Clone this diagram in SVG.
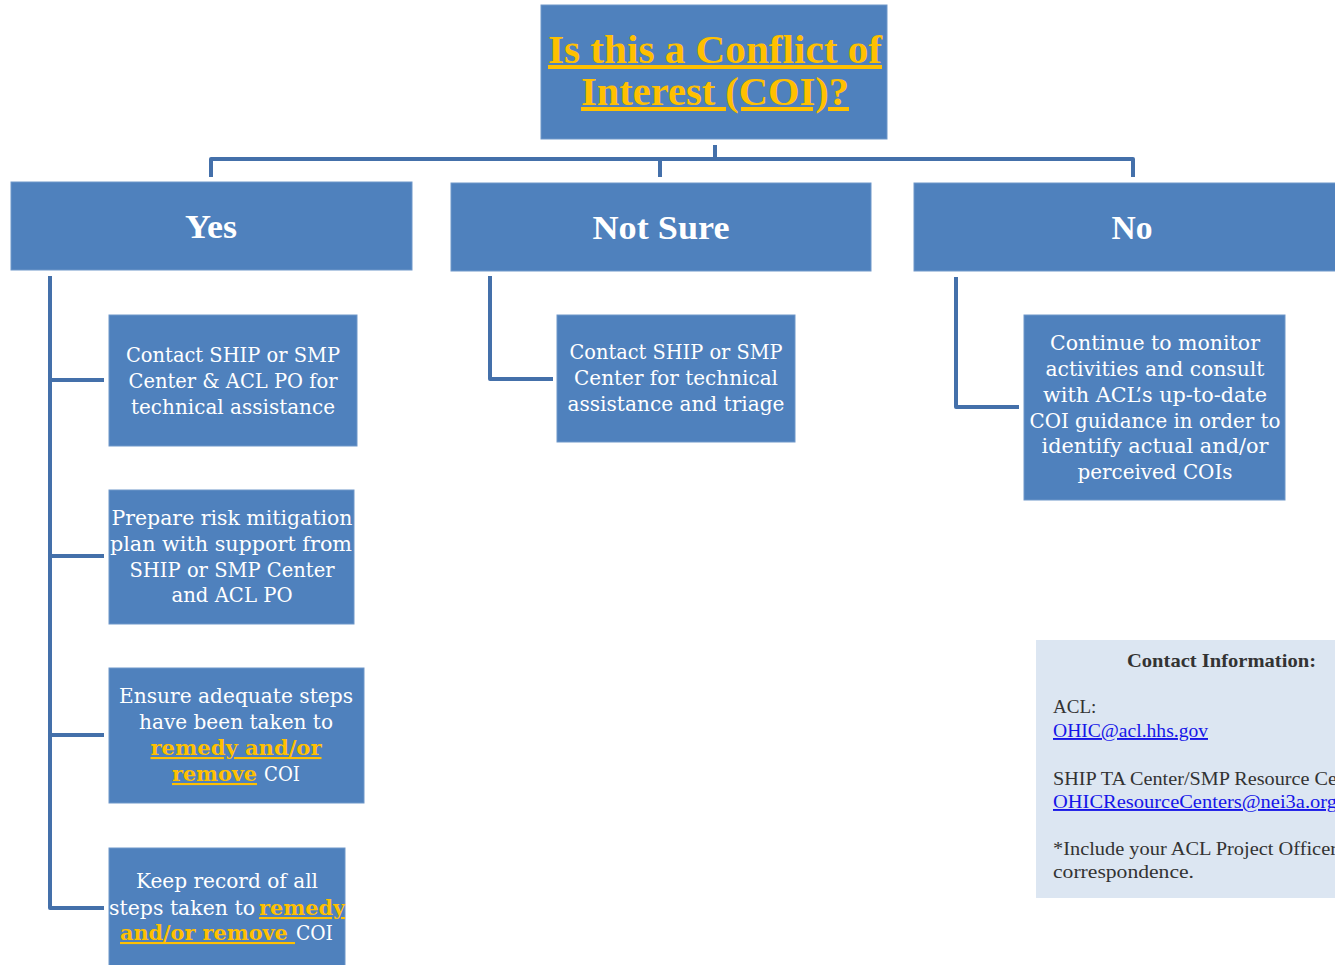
<svg xmlns="http://www.w3.org/2000/svg" width="1335" height="965" viewBox="0 0 1335 965">
<style>
.box{fill:#4F81BD;stroke:#6F97C9;stroke-width:1}
.conn{fill:none;stroke:#4470AA;stroke-width:4;stroke-linejoin:round}
.t{font-family:"DejaVu Serif","Liberation Serif",serif;font-size:21px;fill:#FFFFFF;text-anchor:middle}
.h{font-family:"Liberation Serif","DejaVu Serif",serif;font-size:34px;font-weight:bold;fill:#FFFFFF;text-anchor:middle}
.gold{fill:#FFC000;font-weight:bold;text-decoration:underline}
.title{font-family:"Liberation Serif","DejaVu Serif",serif;font-size:40px;font-weight:bold;fill:#FFC000;text-anchor:middle;text-decoration:underline}
.c{font-family:"Liberation Serif","DejaVu Serif",serif;font-size:19px;fill:#333333}
.lk{fill:#1515E8;text-decoration:underline}
</style>
<rect width="1335" height="965" fill="#FFFFFF"/>
<g id="connectors">
<path class="conn" d="M715,145 V159 M211,177 V159 H1133 V177 M660,159 V177"/>
<path class="conn" d="M50,276 V908 H104 M50,380 H104 M50,556 H104 M50,735 H104"/>
<path class="conn" d="M490,276 V379 H553"/>
<path class="conn" d="M956,277 V407 H1019"/>
</g>
<g id="title">
<rect class="box" x="541" y="5" width="346" height="134"/>
<text class="title" x="715" y="63" textLength="334" lengthAdjust="spacingAndGlyphs">Is this a Conflict of</text>
<text class="title" x="715" y="105" textLength="268" lengthAdjust="spacingAndGlyphs">Interest (COI)?</text>
</g>
<g id="yes">
<rect class="box" x="11" y="182" width="401" height="88"/>
<text class="h" x="211" y="238" textLength="52" lengthAdjust="spacingAndGlyphs">Yes</text>
</g>
<g id="notsure">
<rect class="box" x="451" y="183" width="420" height="88"/>
<text class="h" x="661" y="239" textLength="137" lengthAdjust="spacingAndGlyphs">Not Sure</text>
</g>
<g id="no">
<rect class="box" x="914" y="183" width="430" height="88"/>
<text class="h" x="1132" y="239" textLength="41" lengthAdjust="spacingAndGlyphs">No</text>
</g>
<g id="yes1">
<rect class="box" x="109" y="315" width="248" height="131"/>
<text class="t" x="233" y="362" textLength="214" lengthAdjust="spacingAndGlyphs">Contact SHIP or SMP</text>
<text class="t" x="233" y="388" textLength="209" lengthAdjust="spacingAndGlyphs">Center &amp; ACL PO for</text>
<text class="t" x="233" y="414" textLength="204" lengthAdjust="spacingAndGlyphs">technical assistance</text>
</g>
<g id="yes2">
<rect class="box" x="109" y="490" width="245" height="134"/>
<text class="t" x="232" y="525" textLength="241" lengthAdjust="spacingAndGlyphs">Prepare risk mitigation</text>
<text class="t" x="231" y="551" textLength="242" lengthAdjust="spacingAndGlyphs">plan with support from</text>
<text class="t" x="232" y="577" textLength="205" lengthAdjust="spacingAndGlyphs">SHIP or SMP Center</text>
<text class="t" x="232" y="602" textLength="121" lengthAdjust="spacingAndGlyphs">and ACL PO</text>
</g>
<g id="yes3">
<rect class="box" x="109" y="668" width="255" height="135"/>
<text class="t" x="236" y="703" textLength="234" lengthAdjust="spacingAndGlyphs">Ensure adequate steps</text>
<text class="t" x="236" y="729" textLength="194" lengthAdjust="spacingAndGlyphs">have been taken to</text>
<text class="t gold" x="236" y="755" textLength="171" lengthAdjust="spacingAndGlyphs">remedy and/or</text>
<text class="t" y="781" style="text-anchor:start"><tspan class="gold" x="172" textLength="85" lengthAdjust="spacingAndGlyphs">remove</tspan><tspan x="264" textLength="36" lengthAdjust="spacingAndGlyphs">COI</tspan></text>
</g>
<g id="yes4">
<rect class="box" x="109" y="848" width="236" height="125"/>
<text class="t" x="227" y="888" textLength="182" lengthAdjust="spacingAndGlyphs">Keep record of all</text>
<text class="t" y="915" style="text-anchor:start"><tspan x="109" textLength="146" lengthAdjust="spacingAndGlyphs">steps taken to</tspan><tspan class="gold" x="259" textLength="86" lengthAdjust="spacingAndGlyphs">remedy</tspan></text>
<text class="t" y="940" style="text-anchor:start"><tspan class="gold" x="120" textLength="175" lengthAdjust="spacingAndGlyphs">and/or remove </tspan><tspan x="296" textLength="37" lengthAdjust="spacingAndGlyphs">COI</tspan></text>
</g>
<g id="notsure1">
<rect class="box" x="557" y="315" width="238" height="127"/>
<text class="t" x="676" y="359" textLength="213" lengthAdjust="spacingAndGlyphs">Contact SHIP or SMP</text>
<text class="t" x="676" y="385" textLength="204" lengthAdjust="spacingAndGlyphs">Center for technical</text>
<text class="t" x="676" y="411" textLength="217" lengthAdjust="spacingAndGlyphs">assistance and triage</text>
</g>
<g id="no1">
<rect class="box" x="1024" y="315" width="261" height="185"/>
<text class="t" x="1155" y="350" textLength="210" lengthAdjust="spacingAndGlyphs">Continue to monitor</text>
<text class="t" x="1155" y="376" textLength="219" lengthAdjust="spacingAndGlyphs">activities and consult</text>
<text class="t" x="1155" y="402" textLength="224" lengthAdjust="spacingAndGlyphs">with ACL’s up-to-date</text>
<text class="t" x="1155" y="428" textLength="251" lengthAdjust="spacingAndGlyphs">COI guidance in order to</text>
<text class="t" x="1155" y="453" textLength="227" lengthAdjust="spacingAndGlyphs">identify actual and/or</text>
<text class="t" x="1155" y="479" textLength="155" lengthAdjust="spacingAndGlyphs">perceived COIs</text>
</g>
<g id="contact">
<rect x="1036" y="640" width="310" height="258" fill="#DCE6F2"/>
<text class="c" x="1127" y="667" font-weight="bold" textLength="189" lengthAdjust="spacingAndGlyphs">Contact Information:</text>
<text class="c" x="1053" y="713">ACL:</text>
<text class="c lk" x="1053" y="737" textLength="155" lengthAdjust="spacingAndGlyphs">OHIC@acl.hhs.gov</text>
<text class="c" x="1053" y="785" textLength="284" lengthAdjust="spacingAndGlyphs">SHIP TA Center/SMP Resource Ce</text>
<text class="c lk" x="1053" y="808" textLength="284" lengthAdjust="spacingAndGlyphs">OHICResourceCenters@nei3a.org</text>
<text class="c" x="1053" y="855" textLength="284" lengthAdjust="spacingAndGlyphs">*Include your ACL Project Officer</text>
<text class="c" x="1053" y="878" textLength="141" lengthAdjust="spacingAndGlyphs">correspondence.</text>
</g>
</svg>
